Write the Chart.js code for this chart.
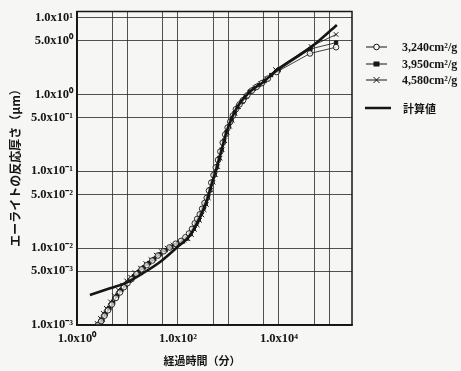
<!DOCTYPE html>
<html lang="ja">
<head>
<meta charset="utf-8">
<title>エーライトの反応厚さ</title>
<script src="https://cdn.jsdelivr.net/npm/chart.js@4/dist/chart.umd.min.js"></script>
<style>
  html, body { margin: 0; padding: 0; background: #f6f6f4; }
  #chart { display: block; }
</style>
</head>
<body>
<canvas id="chart" width="461" height="371"></canvas>
<script>
const seriesNames = ['3,240cm²/g', '3,950cm²/g', '4,580cm²/g', '計算値'];

const circleTimes = [2.6, 3.0, 3.5, 4.1, 4.9, 5.9, 7.1, 8.5, 10, 12, 15, 19, 24, 31, 40, 52, 68, 90,
  115, 140, 165, 190, 215, 240, 270, 300, 335, 370, 410, 455, 505, 560, 620, 690, 770, 860, 960,
  1080, 1220, 1400, 1650, 1950, 2350, 2900, 3600, 4600, 6000, 9000, 41000, 135000];
const circleDepth = [1.0e-3, 1.12e-3, 1.32e-3, 1.55e-3, 1.85e-3, 2.25e-3, 2.65e-3, 3.1e-3, 3.5e-3,
  3.95e-3, 4.6e-3, 5.3e-3, 6.0e-3, 6.9e-3, 8.0e-3, 9.1e-3, 1.02e-2, 1.14e-2,
  1.24e-2, 1.38e-2, 1.55e-2, 1.78e-2, 2.1e-2, 2.4e-2, 2.75e-2, 3.25e-2, 3.85e-2, 4.5e-2, 5.6e-2,
  7.1e-2, 8.9e-2, 0.112, 0.14, 0.18, 0.235, 0.30, 0.37, 0.44, 0.53, 0.64, 0.74, 0.84, 0.97, 1.12,
  1.25, 1.40, 1.6, 1.95, 3.4, 4.1];

const squareTimes = [2.8, 3.2, 3.7, 4.4, 5.2, 6.3, 7.6, 9.2, 11, 13.5, 17, 21, 27, 34, 44, 57, 74, 100,
  125, 150, 178, 205, 230, 258, 285, 318, 352, 390, 432, 480, 530, 590, 655, 730, 815, 910, 1020,
  1150, 1320, 1520, 1800, 2150, 2600, 3200, 4000, 5200, 7000, 9800, 42000, 135000];
const squareDepth = [1.0e-3, 1.15e-3, 1.38e-3, 1.65e-3, 1.95e-3, 2.4e-3, 2.85e-3, 3.3e-3, 3.75e-3,
  4.3e-3, 4.95e-3, 5.6e-3, 6.4e-3, 7.2e-3, 8.3e-3, 9.4e-3, 1.04e-2, 1.15e-2,
  1.22e-2, 1.33e-2, 1.52e-2, 1.8e-2, 2.07e-2, 2.35e-2, 2.8e-2, 3.3e-2, 3.75e-2, 4.6e-2, 5.8e-2,
  7.3e-2, 9.0e-2, 0.114, 0.148, 0.19, 0.245, 0.32, 0.38, 0.46, 0.57, 0.68, 0.79, 0.91, 1.07, 1.18,
  1.32, 1.49, 1.78, 2.05, 3.9, 4.7];

const crossTimes = [2.5, 2.9, 3.3, 3.8, 4.6, 5.5, 6.6, 8, 9.6, 11.5, 14, 18, 23, 29, 37, 47, 61, 80,
  108, 132, 158, 185, 212, 240, 268, 298, 330, 365, 400, 445, 495, 550, 610, 680, 750, 840, 940,
  1050, 1180, 1350, 1580, 1880, 2250, 2750, 3400, 4300, 5600, 8500, 43000, 135000];
const crossDepth = [1.05e-3, 1.22e-3, 1.42e-3, 1.65e-3, 2.0e-3, 2.4e-3, 2.85e-3, 3.3e-3, 3.75e-3,
  4.2e-3, 4.8e-3, 5.5e-3, 6.3e-3, 7.1e-3, 8.1e-3, 9.0e-3, 1.0e-2, 1.1e-2,
  1.18e-2, 1.27e-2, 1.32e-2, 1.5e-2, 1.75e-2, 2.0e-2, 2.3e-2, 2.7e-2, 3.15e-2, 3.7e-2, 4.5e-2,
  5.7e-2, 7.2e-2, 9.0e-2, 0.115, 0.148, 0.19, 0.25, 0.32, 0.385, 0.46, 0.56, 0.69, 0.80, 0.93, 1.09,
  1.22, 1.38, 1.6, 2.1, 4.2, 6.0];

const calcTimes = [1.8, 4.5, 9, 20, 44, 95, 170, 270, 370, 465, 580, 730, 920, 1450, 2650, 4900,
  9000, 47000, 140000];
const calcDepth = [2.45e-3, 3.0e-3, 3.5e-3, 4.7e-3, 6.6e-3, 1.02e-2, 1.45e-2, 2.5e-2, 4.1e-2, 6.8e-2,
  0.11, 0.19, 0.33, 0.66, 1.08, 1.45, 2.05, 4.3, 8.0];

const xGridValues = [1, 5, 10, 50, 100, 500, 1000, 5000, 10000, 50000, 100000];
const xTickLabels = ['1.0x10⁰', '', '', '', '1.0x10²', '', '', '', '1.0x10⁴', '', ''];
const yGridValues = [0.001, 0.005, 0.01, 0.05, 0.1, 0.5, 1, 5, 10];
const yTickLabels = ['1.0x10⁻³', '5.0x10⁻³', '1.0x10⁻²', '5.0x10⁻²', '1.0x10⁻¹', '5.0x10⁻¹',
  '1.0x10⁰', '5.0x10⁰', '1.0x10¹'];

const xTitle = '経過時間（分）';
const yTitle = 'エーライトの反応厚さ（μm）';

(function () {
  const ink = '#151515';
  const paper = '#f6f6f4';
  const tickFont = { family: '"Liberation Serif", serif', size: 12.5, weight: 'bold' };

  const toPoints = (xs, ys) => xs.map((x, i) => ({ x, y: ys[i] }));

  const drawMarker = (ctx, kind, x, y) => {
    ctx.beginPath();
    if (kind === 'circle') {
      ctx.arc(x, y, 2.8, 0, Math.PI * 2);
      ctx.fillStyle = paper;
      ctx.fill();
      ctx.stroke();
    } else if (kind === 'rect') {
      ctx.fillStyle = ink;
      ctx.fillRect(x - 3, y - 2.5, 6, 5);
    } else if (kind === 'crossRot') {
      ctx.moveTo(x - 3, y - 3);
      ctx.lineTo(x + 3, y + 3);
      ctx.moveTo(x + 3, y - 3);
      ctx.lineTo(x - 3, y + 3);
      ctx.stroke();
    }
  };

  const decorations = {
    id: 'decorations',
    beforeDraw(chart) {
      const { ctx, width, height } = chart;
      ctx.save();
      ctx.fillStyle = paper;
      ctx.fillRect(0, 0, width, height);
      ctx.restore();
    },
    afterDraw(chart) {
      const { ctx, chartArea: a } = chart;
      ctx.save();
      ctx.strokeStyle = ink;
      ctx.lineWidth = 1.5;
      ctx.strokeRect(a.left, a.top, a.right - a.left, a.bottom - a.top);

      // axis titles
      ctx.fillStyle = ink;
      ctx.font = 'bold 11px "Noto Sans CJK JP"';
      ctx.textAlign = 'center';
      ctx.textBaseline = 'middle';
      ctx.fillText(xTitle, 202, 361);
      ctx.save();
      ctx.translate(15, 165);
      ctx.rotate(-Math.PI / 2);
      ctx.font = 'bold 12px "Noto Sans CJK JP"';
      ctx.fillText(yTitle, 0, 0);
      ctx.restore();

      // legend
      const rows = [
        { y: 47, kind: 'circle' },
        { y: 64, kind: 'rect' },
        { y: 80, kind: 'crossRot' }
      ];
      ctx.textAlign = 'left';
      ctx.lineWidth = 1;
      rows.forEach((row, i) => {
        ctx.strokeStyle = ink;
        ctx.beginPath();
        ctx.moveTo(366, row.y);
        ctx.lineTo(387, row.y);
        ctx.stroke();
        drawMarker(ctx, row.kind, 376.5, row.y);
        ctx.fillStyle = ink;
        ctx.font = 'bold 12px "Liberation Serif"';
        ctx.fillText(seriesNames[i], 402, row.y + 1);
      });
      ctx.lineWidth = 2.5;
      ctx.beginPath();
      ctx.moveTo(365, 108);
      ctx.lineTo(391, 108);
      ctx.stroke();
      ctx.font = 'bold 11px "Noto Sans CJK JP"';
      ctx.fillText(seriesNames[3], 403, 109);
      ctx.restore();
    }
  };

  const dataset = (label, points, style) => Object.assign({
    label,
    data: points,
    borderColor: ink,
    borderWidth: 0.8,
    pointBorderColor: ink,
    pointBorderWidth: 0.9,
    tension: 0
  }, style);

  new Chart(document.getElementById('chart'), {
    type: 'line',
    data: {
      datasets: [
        dataset(seriesNames[3], toPoints(calcTimes, calcDepth), {
          borderWidth: 2.6,
          pointRadius: 0,
          cubicInterpolationMode: 'monotone'
        }),
        dataset(seriesNames[0], toPoints(circleTimes, circleDepth), {
          pointStyle: 'circle',
          pointRadius: 2.8,
          pointBackgroundColor: 'rgba(246,246,244,0.7)'
        }),
        dataset(seriesNames[1], toPoints(squareTimes, squareDepth), {
          pointStyle: 'rect',
          pointRadius: 2.4,
          pointBackgroundColor: ink
        }),
        dataset(seriesNames[2], toPoints(crossTimes, crossDepth), {
          pointStyle: 'crossRot',
          pointRadius: 3.2,
          pointBorderWidth: 1
        })
      ]
    },
    options: {
      responsive: false,
      animation: false,
      layout: { padding: { top: 9, right: 109, left: 0, bottom: 0 } },
      plugins: {
        legend: { display: false },
        tooltip: { enabled: false }
      },
      scales: {
        x: {
          type: 'logarithmic',
          min: 1,
          max: 279000,
          afterFit: (scale) => { scale.height = 46; },
          afterBuildTicks: (scale) => { scale.ticks = xGridValues.map((value) => ({ value })); },
          ticks: {
            autoSkip: false,
            maxRotation: 0,
            padding: 6,
            color: ink,
            font: tickFont,
            callback: (value, index) => xTickLabels[index]
          },
          grid: { color: 'rgba(40,40,40,0.8)', lineWidth: 1, drawTicks: false },
          border: { color: ink, width: 1.5 }
        },
        y: {
          type: 'logarithmic',
          min: 0.001,
          max: 11.95,
          afterFit: (scale) => { scale.width = 77; },
          afterBuildTicks: (scale) => { scale.ticks = yGridValues.map((value) => ({ value })); },
          ticks: {
            autoSkip: false,
            padding: 4,
            color: ink,
            font: tickFont,
            callback: (value, index) => yTickLabels[index]
          },
          grid: { color: 'rgba(40,40,40,0.8)', lineWidth: 1, drawTicks: false },
          border: { color: ink, width: 1.5 }
        }
      }
    },
    plugins: [decorations]
  });
})();
</script>
</body>
</html>
